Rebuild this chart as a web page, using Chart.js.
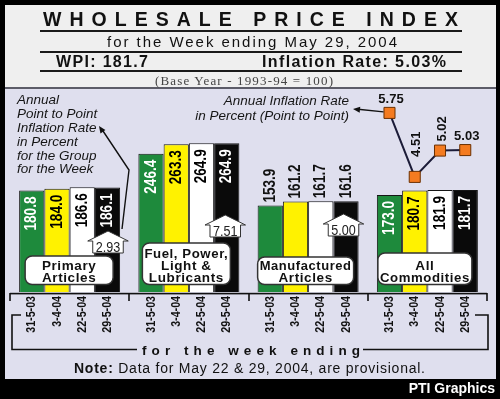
<!DOCTYPE html>
<html><head><meta charset="utf-8">
<script src="https://cdn.jsdelivr.net/npm/chart.js@4.4.1/dist/chart.umd.min.js"></script>
<style>
html,body{margin:0;padding:0;background:#000;width:500px;height:399px;overflow:hidden;}
#wrap{position:relative;width:500px;height:399px;}
.abs{position:absolute;white-space:nowrap;}
#head{left:5px;top:5px;width:491px;height:82px;background:#efefef;}
#sep{left:5px;top:87px;width:491px;height:2px;background:#5c5c68;}
#panel{left:5px;top:89px;width:491px;height:290px;background:#dfdfee;}
.rule{left:40px;width:422px;height:2px;background:#1a1a1a;}
canvas{position:absolute;left:0;top:0;}
</style></head>
<body><div id="wrap">
<div class="abs" id="head"></div>
<div class="abs" id="sep"></div>
<div class="abs" id="panel"></div>
<div class="abs rule" style="top:30px"></div>
<div class="abs rule" style="top:51px"></div>
<div class="abs rule" style="top:70px"></div>
<canvas id="c" width="500" height="399"></canvas>
<canvas id="c2" width="500" height="399"></canvas>
<div class="abs" style="left:17px;top:93.4px;font:italic 13.5px/13.8px 'Liberation Sans',Arial,sans-serif;color:#151515">Annual<br>Point to Point<br>Inflation Rate<br>in Percent<br>for the Group<br>for the Week</div>
<div class="abs" style="right:151px;top:92.8px;text-align:right;font:italic 13.5px/15px 'Liberation Sans',Arial,sans-serif;color:#151515">Annual Inflation Rate<br>in Percent (Point to Point)</div>
<div class="abs" style="right:5px;top:381px;font:bold 14px/14px 'Liberation Sans',Arial,sans-serif;color:#fff">PTI Graphics</div>
</div>
<script>
// ---- data ----
const groupLabels = [['Primary','Articles'],['Fuel, Power,','Light &','Lubricants'],['Manufactured','Articles'],['All','Commodities']];
const weeks = ['31-5-03','3-4-04','22-5-04','29-5-04'];
const week1Values = [180.8, 246.4, 153.9, 173.0];
const week2Values = [184.0, 263.3, 161.2, 180.7];
const week3Values = [186.6, 264.9, 161.7, 181.9];
const week4Values = [186.1, 264.9, 161.6, 181.7];
const groupInflation = [2.93, 7.51, 5.00];
const allInflation = [5.75, 4.51, 5.02, 5.03];

// ---- style / layout ----
const FONT = "'Liberation Sans', Arial, Helvetica, sans-serif";
const BAR_COLORS = ['#1e8a3c', '#fff200', '#ffffff', '#0a0a0a'];
const VAL_COLORS = ['#ffffff', '#000000', '#000000', '#ffffff'];
const LABEL_OUTSIDE = [false, false, true, false];
const CAT_PCT = 0.847;
const PAD = { left: 10, right: 13, top: 100, bottom: 107 };
const BOX_W = [88, 88, 96, 94];
const BOX_DX = [-0.5, -2.5, -2.5, -2.5];
const BOX_TOP = [256, 243, 257, 253];
const CALLOUT_DX = [0.5, -1.5, -2.5];
const CALLOUT_TOP = [240, 224, 223];
const PT_LABEL = [{rot:false, dy:10}, {rot:true, dy:20}, {rot:true, dy:9}, {rot:false, dy:10}];

// ---- header texts (HTML) ----
const wrap = document.getElementById('wrap');
function place(html, font, fs, left, right, baseline, color, serif) {
  const d = document.createElement('div');
  d.className = 'abs';
  d.innerHTML = html;
  d.style.font = font;
  d.style.lineHeight = fs + 'px';
  d.style.color = color || '#111';
  const k = serif ? 0.8375 : 0.8465;
  d.style.top = (baseline - k * fs) + 'px';
  d.style.left = left + 'px';
  wrap.appendChild(d);
  const w = d.getBoundingClientRect().width;
  const n = d.textContent.length;
  d.style.letterSpacing = ((right - left - w) / (n - 1)) + 'px';
}
place('WHOLESALE PRICE INDEX', "bold 19.5px " + FONT, 19.5, 43, 458, 27);
place('for the Week ending May 29, 2004', "15px " + FONT, 15, 107, 397, 47);
place('WPI: 181.7', "bold 16px " + FONT, 16, 56, 148, 68);
place('Inflation Rate: 5.03%', "bold 16px " + FONT, 16, 262, 446, 67.5);
place('(Base Year - 1993-94 = 100)', "13px 'Liberation Serif','Times New Roman',serif", 13, 155, 333, 85, '#444', true);
place('for the week ending', "bold 13.5px " + FONT, 13.5, 142, 360, 355);
place('<b>Note:</b> Data for May 22 &amp; 29, 2004, are provisional.', "14px " + FONT, 14, 74, 425, 372.7);

// ---- drawing helpers ----
function rotText(ctx, text, x, y, font, color, condense, align) {
  ctx.save(); ctx.translate(x, y); ctx.rotate(-Math.PI / 2); ctx.scale(condense, 1);
  ctx.font = font; ctx.fillStyle = color; ctx.textAlign = align; ctx.textBaseline = 'middle';
  ctx.fillText(text, 0, 0); ctx.restore();
}
function rrect(ctx, x, y, w, h, r) {
  ctx.beginPath();
  ctx.moveTo(x + r, y); ctx.lineTo(x + w - r, y); ctx.arcTo(x + w, y, x + w, y + r, r);
  ctx.lineTo(x + w, y + h - r); ctx.arcTo(x + w, y + h, x + w - r, y + h, r);
  ctx.lineTo(x + r, y + h); ctx.arcTo(x, y + h, x, y + h - r, r);
  ctx.lineTo(x, y + r); ctx.arcTo(x, y, x + r, y, r); ctx.closePath();
}
function arrowHead(ctx, fx, fy, tx, ty) {
  const a = Math.atan2(ty - fy, tx - fx), L = 7, W = 3;
  ctx.beginPath(); ctx.moveTo(tx, ty);
  ctx.lineTo(tx - L * Math.cos(a) + W * Math.sin(a), ty - L * Math.sin(a) - W * Math.cos(a));
  ctx.lineTo(tx - L * Math.cos(a) - W * Math.sin(a), ty - L * Math.sin(a) + W * Math.cos(a));
  ctx.closePath(); ctx.fill();
}

const barSets = [week1Values, week2Values, week3Values, week4Values];

const decor = {
  id: 'decor',
  afterDatasetsDraw(chart) {
    const ctx = chart.ctx, xs = chart.scales.x, area = chart.chartArea;
    ctx.save();
    barSets.forEach((vals, d) => {
      const meta = chart.getDatasetMeta(d);
      meta.data.forEach((el, i) => {
        const t = vals[i].toFixed(1);
        if (LABEL_OUTSIDE[i]) {
          rotText(ctx, t, el.x, el.y - 3, 'bold 17px ' + FONT, '#111', 0.8, 'left');
        } else {
          rotText(ctx, t, el.x, el.y + 6, 'bold 17px ' + FONT, VAL_COLORS[d], 0.8, 'right');
        }
        rotText(ctx, weeks[d], el.x, 296, 'bold 13px ' + FONT, '#111', 0.82, 'right');
      });
    });
    const c = i => xs.getPixelForValue(i);
    const slot = c(1) - c(0);
    ctx.fillStyle = '#111';
    ctx.fillRect(area.left, 292.8, area.right - area.left, 1.6);
    for (let i = 0; i <= groupLabels.length; i++) {
      const bx = c(0) - slot / 2 + i * slot;
      ctx.fillRect(Math.round(bx) - 0.8, 293, 1.6, 8);
    }
    groupLabels.forEach((lines, i) => {
      const cx = c(i) + BOX_DX[i], w = BOX_W[i];
      const top = BOX_TOP[i], bot = 284.5;
      rrect(ctx, cx - w / 2, top, w, bot - top, 7);
      ctx.fillStyle = '#fff'; ctx.fill();
      ctx.lineWidth = 1.5; ctx.strokeStyle = '#333'; ctx.stroke();
      ctx.fillStyle = '#111'; ctx.font = 'bold 13.5px ' + FONT;
      ctx.textAlign = 'center'; ctx.textBaseline = 'alphabetic';
      try { ctx.letterSpacing = '0.6px'; } catch (e) {}
      lines.forEach((t, k) => {
        ctx.fillText(t, cx, 282 - (lines.length - 1 - k) * 12.2, w - 4);
      });
      try { ctx.letterSpacing = '0px'; } catch (e) {}
    });
    const blackMeta = chart.getDatasetMeta(3);
    groupInflation.forEach((v, i) => {
      const el = blackMeta.data[i];
      const cx = el.x + CALLOUT_DX[i];
      ctx.font = '14px ' + FONT;
      const t = v.toFixed(2);
      const tw = ctx.measureText(t).width * 0.9;
      const L = cx - tw / 2 - 3, R = cx + tw / 2 + 3, T = CALLOUT_TOP[i], B = T + 13;
      ctx.beginPath();
      ctx.moveTo(L, B); ctx.lineTo(L, T + 1); ctx.lineTo(L - 5, T + 1); ctx.lineTo(cx, T - 9);
      ctx.lineTo(R + 5, T + 1); ctx.lineTo(R, T + 1); ctx.lineTo(R, B); ctx.closePath();
      ctx.fillStyle = '#fff'; ctx.fill();
      ctx.lineWidth = 1; ctx.strokeStyle = '#333'; ctx.stroke();
      ctx.save(); ctx.translate(cx, B - 1.5); ctx.scale(0.9, 1);
      ctx.fillStyle = '#222'; ctx.textAlign = 'center'; ctx.textBaseline = 'alphabetic';
      ctx.fillText(t, 0, 0); ctx.restore();
    });
    // left annotation arrow
    ctx.strokeStyle = '#111'; ctx.fillStyle = '#111'; ctx.lineWidth = 1.4;
    ctx.beginPath(); ctx.moveTo(122, 229); ctx.lineTo(129, 170); ctx.lineTo(103, 131); ctx.stroke();
    arrowHead(ctx, 129, 170, 99, 126);
    // bracket
    ctx.lineWidth = 1.6;
    ctx.beginPath(); ctx.moveTo(21, 315); ctx.lineTo(12, 315); ctx.lineTo(12, 349.5); ctx.lineTo(137, 349.5); ctx.stroke();
    ctx.beginPath(); ctx.moveTo(363, 349.5); ctx.lineTo(488, 349.5); ctx.lineTo(488, 315); ctx.lineTo(475, 315); ctx.stroke();
    ctx.restore();
  }
};

new Chart(document.getElementById('c'), {
  type: 'bar',
  data: {
    labels: groupLabels.map(l => l.join(' ')),
    datasets: barSets.map((vals, d) => ({
      label: weeks[d], data: vals, backgroundColor: BAR_COLORS[d],
      borderColor: '#161616', borderWidth: 1, barPercentage: 1, categoryPercentage: CAT_PCT
    }))
  },
  options: {
    responsive: false, animation: false, devicePixelRatio: 1,
    layout: { padding: PAD },
    plugins: { legend: { display: false }, tooltip: { enabled: false } },
    scales: {
      x: { type: 'category', display: false, offset: true },
      y: { display: false, min: 0, max: 342 }
    }
  },
  plugins: [decor]
});

// ---- inflation line (overlay chart, same plot area, group units on x) ----
const lastG = groupLabels.length - 1;
const lineData = allInflation.map((v, k) => ({
  x: lastG + 0.5 + (k - (allInflation.length - 1) / 2) * CAT_PCT / allInflation.length,
  y: v
}));

const lineDecor = {
  id: 'lineDecor',
  afterDatasetsDraw(chart) {
    const ctx = chart.ctx;
    ctx.save();
    const lm = chart.getDatasetMeta(0);
    lm.data.forEach((p, k) => {
      const s = PT_LABEL[k], t = allInflation[k].toFixed(2);
      if (s.rot) {
        rotText(ctx, t, p.x + 2, p.y - s.dy, 'bold 13px ' + FONT, '#111', 1, 'left');
      } else {
        ctx.font = 'bold 13px ' + FONT; ctx.fillStyle = '#111';
        ctx.textAlign = 'center'; ctx.textBaseline = 'alphabetic';
        ctx.fillText(t, p.x + 1.5, p.y - s.dy);
      }
    });
    const p0 = lm.data[0];
    ctx.strokeStyle = '#111'; ctx.fillStyle = '#111'; ctx.lineWidth = 1.4;
    ctx.beginPath(); ctx.moveTo(p0.x - 6, p0.y - 1); ctx.lineTo(358, 109.3); ctx.stroke();
    arrowHead(ctx, p0.x - 6, p0.y - 1, 353, 109);
    ctx.restore();
  }
};

new Chart(document.getElementById('c2'), {
  type: 'line',
  data: {
    datasets: [{
      label: 'Inflation', data: lineData,
      borderColor: '#1c1c38', borderWidth: 2, pointStyle: 'rect', pointRadius: 7.8,
      pointBackgroundColor: '#f47b20', pointBorderColor: '#6b3000', pointBorderWidth: 1,
      tension: 0, clip: false
    }]
  },
  options: {
    responsive: false, animation: false, devicePixelRatio: 1,
    layout: { padding: PAD },
    plugins: { legend: { display: false }, tooltip: { enabled: false } },
    scales: {
      x: { type: 'linear', display: false, min: 0, max: 4 },
      y: { display: false, min: 2.28, max: 6.0 }
    }
  },
  plugins: [lineDecor]
});
</script>
</body></html>
